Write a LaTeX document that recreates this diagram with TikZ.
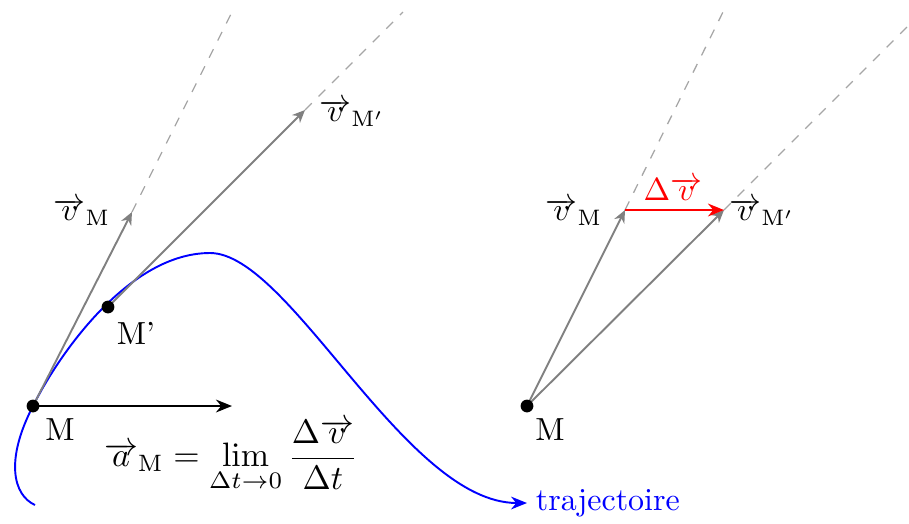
\documentclass[tikz,border=0pt]{standalone}
\usetikzlibrary{arrows.meta}
\begin{document}
\begin{tikzpicture}[x=0.011cm,y=-0.011cm,
  vec/.style={gray, semithick, -{Stealth[length=4pt,width=3.5pt]}},
  ext/.style={gray!70, thin, dashed},
  dv/.style={red, thick, -{Stealth[length=5pt,width=4pt]}},
  acc/.style={black, thick, -{Stealth[length=5pt,width=4pt]}},
  traj/.style={blue, semithick, -{Stealth[length=5pt,width=4pt]}},
  pt/.style={circle, fill=black, inner sep=0pt, minimum size=4pt},
  lab/.style={inner sep=1pt}]
\useasboundingbox (0,0) rectangle (909,523);
% left diagram
\coordinate (M) at (33,406);
\coordinate (Mp) at (108,307);
\coordinate (vM) at (132,212);
\coordinate (vMe) at (232,12);
\coordinate (vMp) at (305,110);
\coordinate (vMpe) at (403,12);
\coordinate (aM) at (232,406);
\coordinate (S) at (35,505);
\coordinate (P) at (210,253);
\coordinate (T) at (527,503);
\draw[traj] (S) .. controls (13,495) and (5,460) .. (M)
  .. controls (60,352) and (130,253) .. (P)
  .. controls (290,253) and (405,503) .. (T);
\draw[ext] (vM) -- (vMe);
\draw[ext] (vMp) -- (vMpe);
\draw[vec] (M) -- (vM);
\draw[vec] (Mp) -- (vMp);
\draw[acc] (M) -- (aM);
\node[pt] (Mdot) at (M) {};
\node[pt] (Mpdot) at (Mp) {};
\node[lab] (lM) at (60,430) {M};
\node[lab] (lMp) at (136,333) {M'};
\node[lab] (lvM) at (82,212) {$\overrightarrow{v}_{\mathrm{M}}$};
\node[lab] (lvMp) at (352,113) {$\overrightarrow{v}_{\mathrm{M'}}$};
\node[lab, scale=1.06] (form) at (231,456) {$\displaystyle \overrightarrow{a}_{\mathrm{M}}=\lim_{\Delta t\to 0}\frac{\Delta\overrightarrow{v}}{\Delta t}$};
\node[lab, blue, anchor=west] (lT) at (532,503) {trajectoire};
% right diagram
\coordinate (N) at (527,406);
\coordinate (wM) at (625,210);
\coordinate (wMe) at (723,12);
\coordinate (wMp) at (724,210);
\coordinate (wMpe) at (909,25);
\draw[ext] (wM) -- (wMe);
\draw[ext] (wMp) -- (wMpe);
\draw[vec] (N) -- (wM);
\draw[vec] (N) -- (wMp);
\draw[dv] (wM) -- (wMp);
\node[pt] (Ndot) at (N) {};
\node[lab] (lN) at (550,430) {M};
\node[lab] (lwM) at (574,212) {$\overrightarrow{v}_{\mathrm{M}}$};
\node[lab] (lwMp) at (762,212) {$\overrightarrow{v}_{\mathrm{M'}}$};
\node[lab, red] (ldv) at (673,189) {$\Delta\overrightarrow{v}$};
\end{tikzpicture}
\end{document}
